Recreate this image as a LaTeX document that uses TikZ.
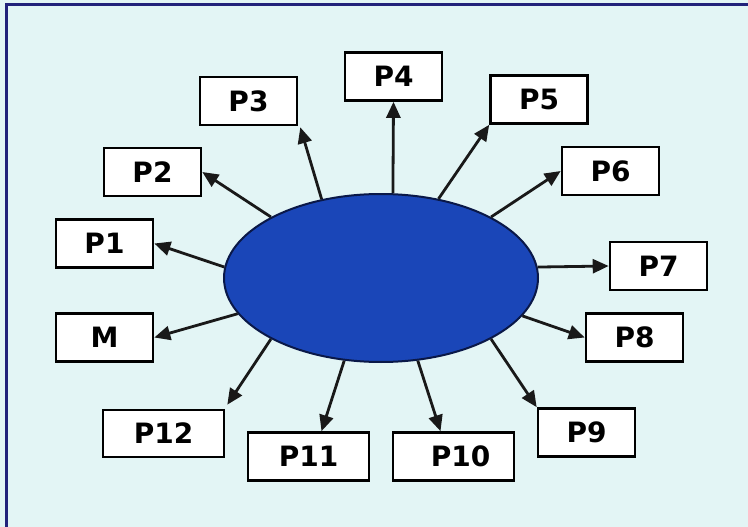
\documentclass[tikz,border=0pt]{standalone}
\usepackage{fontspec}
\setmainfont{DejaVu Sans}
\usetikzlibrary{shapes.geometric,arrows.meta}
\definecolor{bgcol}{HTML}{E3F5F5}
\definecolor{framecol}{HTML}{22227A}
\definecolor{ellfill}{HTML}{1A46B8}
\definecolor{elldraw}{HTML}{0A1848}
\tikzset{
  pbox/.style={draw=black, line width=2.6pt, fill=white, minimum width=97pt, minimum height=48pt, inner sep=0pt, font=\fontsize{28}{28}\selectfont\bfseries},
  wbox/.style={pbox, minimum width=121pt},
  conn/.style={line width=2.8pt, draw=black!90, -{Triangle[length=16pt,width=14pt]}}
}
\begin{document}
\begin{tikzpicture}[x=1pt,y=-1pt]
\useasboundingbox (0,0) rectangle (748,527);
\fill[bgcol] (0,0) rectangle (748,527);
\draw[framecol, line width=3pt] (6,527) -- (6,4.5) -- (748,4.5);

\node[ellipse, minimum width=314pt, minimum height=168pt, inner sep=0pt, fill=ellfill, draw=elldraw, line width=2pt] (e) at (381,278) {};

\node[pbox] (p1) at (104.5,243.5) {P1};
\node[pbox] (m) at (104.5,337.5) {M};
\node[pbox] (p2) at (152.5,172) {P2};
\node[pbox] (p3) at (248.5,101) {P3};
\node[pbox] (p4) at (393.5,76.5) {P4};
\node[pbox] (p5) at (539,99.5) {P5};
\node[pbox] (p6) at (610.5,171) {P6};
\node[pbox] (p7) at (658.5,266) {P7};
\node[pbox] (p8) at (634.5,337.5) {P8};
\node[pbox] (p9) at (586.5,432.5) {P9};
\node[wbox] (p10) at (453.5,456.5) {\hspace{14pt}P10};
\node[wbox] (p11) at (308.5,456.5) {P11};
\node[wbox, minimum height=47pt] (p12) at (163.5,433.5) {P12};

\draw[conn] (e.82) -- (p4.south);
\draw[conn] (e.54) -- (p5.south west);
\draw[conn] (e.127) -- ([xshift=2pt,yshift=-1pt]p3.south east);
\draw[conn] (e.151) -- (p2.east);
\draw[conn] (e.176) -- (p1.east);
\draw[conn] (e.194.5) -- (m.east);
\draw[conn] (e.209.6) -- ([xshift=2pt,yshift=4pt]p12.north east);
\draw[conn] (e.246) -- ([xshift=13pt]p11.north);
\draw[conn] (e.294) -- ([xshift=-13pt]p10.north);
\draw[conn] (e.331) -- (p9.north west);
\draw[conn] (e.345) -- (p8.west);
\draw[conn] (e.4.4) -- (p7.west);
\draw[conn] (e.29) -- (p6.west);
\end{tikzpicture}
\end{document}
